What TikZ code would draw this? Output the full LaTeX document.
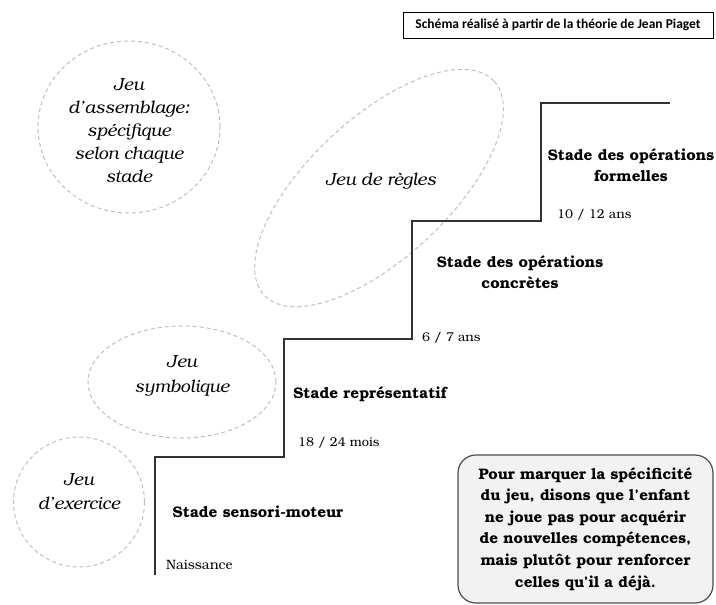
\documentclass[tikz,border=0pt]{standalone}
\usepackage{fontspec}
\setmainfont{TeX Gyre Bonum}
\newfontfamily\titlefont{Carlito}
\usetikzlibrary{shapes.geometric}
\begin{document}
\begin{tikzpicture}[x=1pt,y=-1pt,
  stair/.style={draw=black!80, line width=1.3pt},
  playshape/.style={draw=black!25, dash pattern=on 4pt off 3pt, line width=1pt, ellipse, inner sep=0pt},
  playtext/.style={font=\itshape\fontsize{17.5}{23}\selectfont, align=center},
  stagetext/.style={font=\bfseries\fontsize{15.3}{21}\selectfont, align=center},
  agetext/.style={font=\fontsize{12.8}{13}\selectfont, anchor=west, inner sep=0pt},
]
\useasboundingbox (0,0) rectangle (716,605);

% title
\node[draw, line width=0.8pt, minimum width=310pt, minimum height=26pt,
      font=\titlefont\bfseries\fontsize{13.5}{15}\selectfont] (title) at (558,25)
      {Schéma réalisé à partir de la théorie de Jean Piaget};

% play shapes
\node[playshape, minimum width=182pt, minimum height=172pt] (assShape) at (129,127) {};
\node[playtext] (ass) at (129,130.5) {Jeu\\d’assemblage:\\spécifique\\selon chaque\\stade};

\node[playshape, minimum width=314pt, minimum height=140pt, rotate=43] (rulesShape) at (379,188) {};
\node[playtext] (rules) at (381,181) {Jeu de règles};

\node[playshape, minimum width=188pt, minimum height=112pt] (symShape) at (182,382) {};
\node[playtext, font=\itshape\fontsize{17.5}{25}\selectfont] (sym) at (182,376) {Jeu\\symbolique};

\node[playshape, minimum width=131pt, minimum height=130pt] (exShape) at (79,502) {};
\node[playtext, font=\itshape\fontsize{17.5}{24}\selectfont] (ex) at (79,492) {Jeu\\d’exercice};

% staircase
\draw[stair] (155,575) |- (284,457) |- (412,339) |- (541,221) |- (670,103);

% stages
\node[stagetext] (formal) at (631,165.5) {Stade des opérations\\formelles};
\node[stagetext] (concrete) at (520,272.5) {Stade des opérations\\concrètes};
\node[stagetext] (repr) at (370,394) {Stade représentatif};
\node[stagetext] (senso) at (258,512) {Stade sensori-moteur};

% ages
\node[agetext] (a1) at (557,215) {10 / 12 ans};
\node[agetext] (a2) at (422,338) {6 / 7 ans};
\node[agetext] (a3) at (298,443) {18 / 24 mois};
\node[agetext, font=\fontsize{13.5}{15}\selectfont] (a4) at (166,565) {Naissance};

% note
\node[draw=black!70, fill=black!5, rounded corners=18pt, line width=1.2pt,
      minimum width=255pt, minimum height=148pt, align=center,
      font=\bfseries\fontsize{15.2}{21.6}\selectfont] (note) at (585.5,529)
      {Pour marquer la spécificité\\du jeu, disons que l’enfant\\ne joue pas pour acquérir\\de nouvelles compétences,\\mais plutôt pour renforcer\\celles qu’il a déjà.};
\end{tikzpicture}
\end{document}
